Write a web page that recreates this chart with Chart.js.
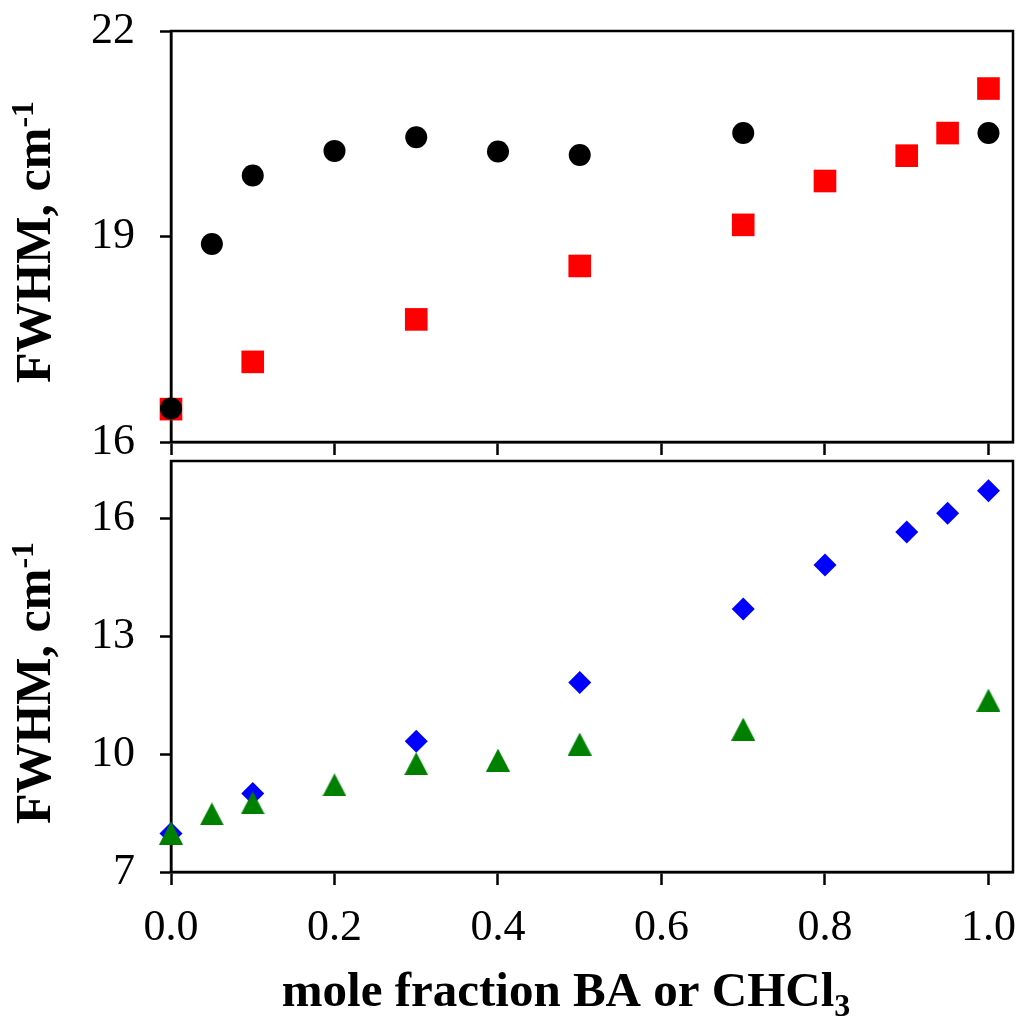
<!DOCTYPE html>
<html><head><meta charset="utf-8">
<script src="https://cdn.jsdelivr.net/npm/chart.js@4/dist/chart.umd.min.js"></script>
<style>
html,body{margin:0;padding:0;background:#fff;}
#wrap{position:relative;width:1017px;height:1017px;background:#fff;}
canvas{position:absolute;left:0;top:0;}
</style></head><body>
<div id="wrap"><canvas id="cTop" width="1017" height="1017"></canvas><canvas id="cBot" width="1017" height="1017"></canvas></div>
<script>
// ---- data ----
const xTicks = [0, 0.2, 0.4, 0.6, 0.8, 1.0];
const topYTicks = [16, 19, 22];
const botYTicks = [7, 10, 13, 16];
const blackX = [0, 0.05, 0.1, 0.2, 0.3, 0.4, 0.5, 0.7, 1.0];
const blackY = [16.49, 18.89, 19.89, 20.25, 20.45, 20.24, 20.19, 20.51, 20.51];
const redX = [0, 0.1, 0.3, 0.5, 0.7, 0.8, 0.9, 0.95, 1.0];
const redY = [16.48, 17.17, 17.79, 18.57, 19.17, 19.81, 20.18, 20.51, 21.16];
const blueX = [0, 0.1, 0.3, 0.5, 0.7, 0.8, 0.9, 0.95, 1.0];
const blueY = [7.98, 9.0, 10.33, 11.83, 13.70, 14.82, 15.66, 16.14, 16.71];
const greenX = [0, 0.05, 0.1, 0.2, 0.3, 0.4, 0.5, 0.7, 1.0];
const greenY = [7.99, 8.48, 8.76, 9.22, 9.76, 9.85, 10.26, 10.64, 11.38];
const yTitleMain = 'FWHM, cm';
const yTitleSup = '-1';
const xTitleMain = 'mole fraction BA or CHCl';
const xTitleSub = '3';

const FONT = "'Liberation Serif','Times New Roman',serif";
const LW = 2.5;

function pts(xs, ys){ return xs.map((x,i)=>({x:x, y:ys[i]})); }

// triangle marker (bounding box centred on the point)
const tri = document.createElement('canvas');
tri.width = 24; tri.height = 23;
(function(){ const c = tri.getContext('2d'); c.fillStyle = '#008000'; c.beginPath(); c.moveTo(12,0); c.lineTo(24,23); c.lineTo(0,23); c.closePath(); c.fill(); })();

function zeroPad(s){ s.paddingTop = 0; s.paddingBottom = 0; s.paddingLeft = 0; s.paddingRight = 0; }

function mkX(showLabels){
  return {
    type:'linear', min:0, max:1.03,
    afterBuildTicks: s => { s.ticks = xTicks.map(v=>({value:v})); },
    afterFit: s => { s.height = showLabels ? 145 : 16; zeroPad(s); },
    grid:{display:true, drawOnChartArea:false, drawTicks:true, tickLength:13, tickWidth:LW, tickColor:'#000'},
    border:{display:true, color:'#000', width:LW},
    ticks:{display:showLabels, color:'#000', font:{family:FONT, size:44}, padding:17, maxRotation:0, autoSkip:false,
      callback: v => Number(v).toFixed(1)}
  };
}
function mkY(min, max, ticks){
  return {
    type:'linear', min:min, max:max,
    afterBuildTicks: s => { s.ticks = ticks.map(v=>({value:v})); },
    afterFit: s => { s.width = 171; zeroPad(s); },
    grid:{display:true, drawOnChartArea:false, drawTicks:true, tickLength:11, tickWidth:LW, tickColor:'#000'},
    border:{display:true, color:'#000', width:LW},
    ticks:{color:'#000', font:{family:FONT, size:44}, padding:25, autoSkip:false, callback: v => String(v)}
  };
}

const boxPlugin = { id:'box', beforeDatasetsDraw(chart){
  const {ctx, chartArea:a} = chart;
  ctx.save(); ctx.strokeStyle = '#000'; ctx.lineWidth = LW;
  ctx.strokeRect(a.left, a.top, a.right - a.left, a.bottom - a.top);
  ctx.restore();
}};

function drawYTitle(ctx, cx, cy){
  ctx.save(); ctx.translate(cx, cy); ctx.rotate(-Math.PI/2);
  ctx.fillStyle = '#000'; ctx.textBaseline = 'alphabetic'; ctx.textAlign = 'left';
  ctx.font = 'bold 50px ' + FONT; const w1 = ctx.measureText(yTitleMain).width;
  ctx.font = 'bold 32px ' + FONT; const w2 = ctx.measureText(yTitleSup).width;
  const x0 = -(w1 + w2) / 2;
  ctx.font = 'bold 50px ' + FONT; ctx.fillText(yTitleMain, x0, 0);
  ctx.font = 'bold 32px ' + FONT; ctx.fillText(yTitleSup, x0 + w1, -17);
  ctx.restore();
}
function drawXTitle(ctx, cx, by){
  ctx.save(); ctx.fillStyle = '#000'; ctx.textBaseline = 'alphabetic'; ctx.textAlign = 'left';
  ctx.font = 'bold 49px ' + FONT; const w1 = ctx.measureText(xTitleMain).width;
  ctx.font = 'bold 32px ' + FONT; const w2 = ctx.measureText(xTitleSub).width;
  const x0 = cx - (w1 + w2) / 2;
  ctx.font = 'bold 49px ' + FONT; ctx.fillText(xTitleMain, x0, by);
  ctx.font = 'bold 32px ' + FONT; ctx.fillText(xTitleSub, x0 + w1, by + 10);
  ctx.restore();
}

const common = {
  responsive:false, animation:false, events:[],
  plugins:{legend:{display:false}, tooltip:{enabled:false}}
};

new Chart(document.getElementById('cTop'), {
  type:'scatter',
  data:{datasets:[
    {data:pts(blackX, blackY), pointStyle:'circle', pointRadius:11, backgroundColor:'#000', borderWidth:0, clip:false},
    {data:pts(redX, redY), pointStyle:'rect', pointRadius:16, backgroundColor:'#FF0000', borderWidth:0, clip:false}
  ]},
  options:Object.assign({}, common, {
    layout:{autoPadding:false, padding:{top:31, right:4, left:0, bottom:559}},
    scales:{x:mkX(false), y:mkY(16, 22, topYTicks)}
  }),
  plugins:[boxPlugin, {id:'ttl', afterDraw(chart){ drawYTitle(chart.ctx, 50, 242); }}]
});

new Chart(document.getElementById('cBot'), {
  type:'scatter',
  data:{datasets:[
    {data:pts(greenX, greenY), pointStyle:tri, pointRadius:12, backgroundColor:'#008000', borderWidth:0, clip:false},
    {data:pts(blueX, blueY), pointStyle:'rectRot', pointRadius:11.5, backgroundColor:'#0000FF', borderWidth:0, clip:false}
  ]},
  options:Object.assign({}, common, {
    layout:{autoPadding:false, padding:{top:461, right:4, left:0, bottom:0}},
    scales:{x:mkX(true), y:mkY(7, 17.47, botYTicks)}
  }),
  plugins:[boxPlugin, {id:'ttl', afterDraw(chart){ drawYTitle(chart.ctx, 50, 683); drawXTitle(chart.ctx, 566, 1006); }}]
});
</script>
</body></html>
